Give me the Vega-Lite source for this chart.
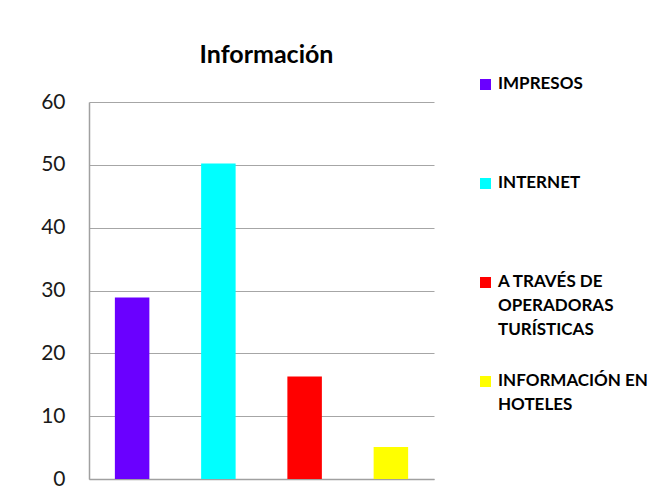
{
  "$schema": "https://vega.github.io/schema/vega-lite/v6.json",
  "width": 345,
  "height": 377,
  "autosize": {"type": "none"},
  "padding": {"left": 89, "top": 102, "right": 233, "bottom": 20},
  "background": "white",
  "title": {"text": "Información", "frame": "group", "anchor": "middle", "baseline": "alphabetic", "offset": -12, "dx": 5, "font": "Lato", "fontSize": 25, "fontWeight": "bold", "color": "#000000"},
  "data": {"values": [
    {"fuente": "IMPRESOS", "valor": 28.9},
    {"fuente": "INTERNET", "valor": 50.2},
    {"fuente": "A TRAVÉS DE OPERADORAS TURÍSTICAS", "valor": 16.3},
    {"fuente": "INFORMACIÓN EN HOTELES", "valor": 5.1}
  ]},
  "mark": {"type": "bar"},
  "encoding": {
    "x": {"field": "fuente", "type": "nominal", "sort": null,
      "scale": {"paddingInner": 0.6, "paddingOuter": 0.3},
      "axis": {"labels": false, "ticks": false, "title": null, "domainColor": "#A0A0A0", "domainWidth": 1.5}},
    "y": {"field": "valor", "type": "quantitative",
      "scale": {"domain": [0, 60], "nice": false},
      "axis": {"values": [0, 10, 20, 30, 40, 50, 60], "title": null, "ticks": false, "labelPadding": 24, "labelFont": "Lato", "labelFontSize": 21, "labelColor": "#1A1A1A", "gridColor": "#A6A6A6", "domainColor": "#A0A0A0", "domainWidth": 1.5}},
    "color": {"field": "fuente", "type": "nominal", "sort": null,
      "scale": {"domain": ["IMPRESOS", "INTERNET", "A TRAVÉS DE OPERADORAS TURÍSTICAS", "INFORMACIÓN EN HOTELES"], "range": ["#6A00FF", "#00FFFF", "#FF0000", "#FFFF00"]},
      "legend": {"orient": "none", "legendX": 388, "legendY": -26, "title": null, "symbolType": "square", "symbolSize": 121, "symbolStrokeWidth": 0, "symbolOpacity": 1,
        "labelFont": "Lato", "labelFontSize": 17, "labelFontWeight": "bold", "labelColor": "#000000", "labelLimit": 300, "labelOffset": 4, "labelBaseline": "top",
        "gridAlign": "all", "rowPadding": 33, "padding": 0,
        "labelExpr": "datum.label == 'A TRAVÉS DE OPERADORAS TURÍSTICAS' ? ['A TRAVÉS DE', 'OPERADORAS', 'TURÍSTICAS'] : datum.label == 'INFORMACIÓN EN HOTELES' ? ['INFORMACIÓN EN', 'HOTELES'] : datum.label",
        "encode": {"labels": {"update": {"dy": {"value": -9}, "lineHeight": {"value": 24}}}}}}
  },
  "config": {"view": {"stroke": null}}
}
